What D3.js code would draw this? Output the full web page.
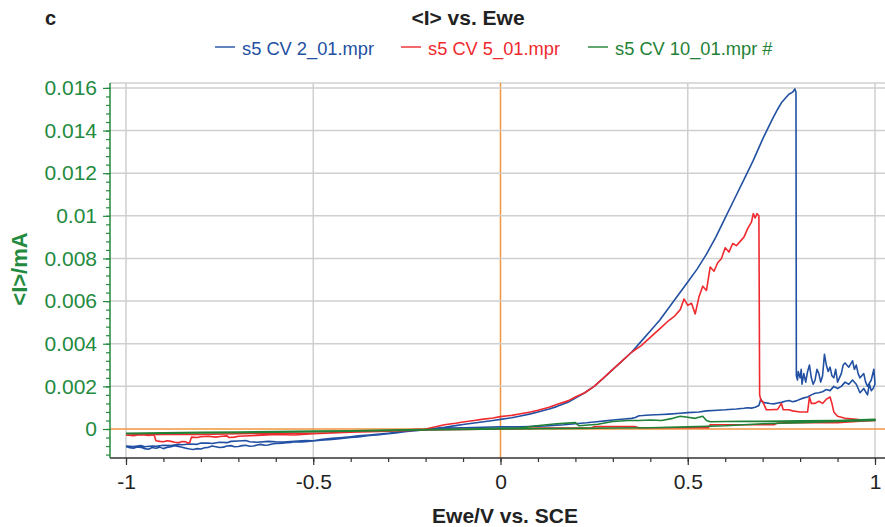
<!DOCTYPE html>
<html>
<head>
<meta charset="utf-8">
<script src="https://cdn.jsdelivr.net/npm/d3@7"></script>
<style>
  body { margin: 0; background: #fff; }
  svg { font-family: "Liberation Sans", Arial, sans-serif; }
</style>
</head>
<body>
<div id="chart"></div>
<script>
const svgWidth = 885;
const svgHeight = 527;

// series: [Ewe (V vs SCE), <I> (mA)], forward scan then return scan
const cv2 = [
  [-1.00, -0.00082], [-0.99, -0.00088], [-0.98, -0.00090], [-0.97, -0.00084], [-0.96, -0.00086],
  [-0.95, -0.00092], [-0.94, -0.00095], [-0.93, -0.00087], [-0.92, -0.00090], [-0.91, -0.00085],
  [-0.90, -0.00092], [-0.89, -0.00086], [-0.88, -0.00083], [-0.87, -0.00078], [-0.86, -0.00082],
  [-0.85, -0.00086], [-0.84, -0.00090], [-0.83, -0.00094], [-0.82, -0.00096], [-0.81, -0.00092],
  [-0.80, -0.00094], [-0.79, -0.00088], [-0.78, -0.00086], [-0.77, -0.00080], [-0.76, -0.00083],
  [-0.75, -0.00087], [-0.74, -0.00085], [-0.73, -0.00080], [-0.72, -0.00078], [-0.71, -0.00083],
  [-0.70, -0.00082], [-0.69, -0.00078], [-0.68, -0.00076], [-0.67, -0.00081], [-0.66, -0.00080],
  [-0.65, -0.00075], [-0.64, -0.00072], [-0.63, -0.00076], [-0.62, -0.00075], [-0.61, -0.00070],
  [-0.60, -0.00068], [-0.58, -0.00066], [-0.56, -0.00063], [-0.55, -0.00060], [-0.53, -0.00061],
  [-0.50, -0.00056], [-0.48, -0.00053], [-0.45, -0.00049], [-0.43, -0.00046], [-0.40, -0.00040],
  [-0.38, -0.00037], [-0.35, -0.00030], [-0.33, -0.00028], [-0.30, -0.00022], [-0.28, -0.00018],
  [-0.25, -0.00012], [-0.22, -0.00007], [-0.20, -0.00003], [-0.18, 0.00002], [-0.15, 0.00008],
  [-0.12, 0.00016], [-0.10, 0.00021], [-0.07, 0.00028], [-0.05, 0.00033], [-0.02, 0.00040],
  [0.00, 0.00045], [0.03, 0.00053], [0.05, 0.00060], [0.08, 0.00071], [0.10, 0.00080],
  [0.13, 0.00094], [0.15, 0.00105], [0.18, 0.00125], [0.20, 0.00145], [0.225, 0.0017],
  [0.25, 0.0020], [0.275, 0.00238], [0.30, 0.0028], [0.325, 0.0032], [0.35, 0.0036],
  [0.375, 0.0041], [0.40, 0.0046], [0.425, 0.0051], [0.45, 0.0057], [0.475, 0.0063],
  [0.50, 0.0069], [0.525, 0.0075], [0.55, 0.0082], [0.575, 0.0090], [0.60, 0.0099],
  [0.625, 0.0108], [0.65, 0.0117], [0.675, 0.0126], [0.70, 0.0136], [0.725, 0.0145],
  [0.74, 0.0150], [0.75, 0.0153], [0.76, 0.0155], [0.77, 0.0157], [0.78, 0.0158],
  [0.786, 0.01595], [0.789, 0.0158], [0.790, 0.0025], [0.793, 0.0023], [0.795, 0.0027],
  [0.80, 0.0024], [0.803, 0.0028], [0.805, 0.0021], [0.81, 0.0026], [0.815, 0.0022],
  [0.82, 0.0027], [0.825, 0.0030], [0.83, 0.0024], [0.835, 0.0021], [0.84, 0.0023],
  [0.845, 0.0028], [0.85, 0.0026], [0.855, 0.0022], [0.86, 0.0025], [0.865, 0.0035],
  [0.87, 0.0030], [0.875, 0.0027], [0.88, 0.0029], [0.885, 0.0025], [0.89, 0.0024],
  [0.895, 0.0028], [0.90, 0.0022], [0.91, 0.0026], [0.915, 0.0030], [0.92, 0.0031],
  [0.93, 0.0029], [0.94, 0.0032], [0.945, 0.0028], [0.95, 0.0030], [0.955, 0.0026],
  [0.96, 0.0024], [0.97, 0.0026], [0.975, 0.0022], [0.98, 0.0020], [0.99, 0.0023],
  [0.997, 0.0028], [1.00, 0.0021],
  [0.995, 0.0019], [0.99, 0.0018], [0.985, 0.0021], [0.98, 0.0016], [0.97, 0.0019],
  [0.96, 0.0017], [0.95, 0.0021], [0.94, 0.0023], [0.93, 0.0021], [0.92, 0.0022],
  [0.91, 0.0020], [0.90, 0.0019], [0.89, 0.0020], [0.88, 0.0018], [0.87, 0.00185],
  [0.86, 0.00175], [0.85, 0.0017], [0.84, 0.00168], [0.83, 0.0016], [0.82, 0.0015],
  [0.81, 0.00146], [0.80, 0.0014], [0.79, 0.00132], [0.78, 0.00128], [0.77, 0.00134],
  [0.76, 0.0013], [0.75, 0.00125], [0.74, 0.00122], [0.73, 0.00118], [0.72, 0.0012],
  [0.70, 0.00125], [0.695, 0.0014], [0.69, 0.0011], [0.68, 0.00102], [0.67, 0.00098],
  [0.66, 0.00100], [0.65, 0.00097], [0.63, 0.00094], [0.62, 0.00093], [0.60, 0.0009],
  [0.58, 0.00088], [0.55, 0.00085], [0.53, 0.00080], [0.50, 0.00077], [0.48, 0.00074],
  [0.45, 0.0007], [0.43, 0.00068], [0.40, 0.00066], [0.38, 0.00063], [0.37, 0.00062],
  [0.36, 0.00054], [0.35, 0.0005], [0.33, 0.00047], [0.30, 0.00042], [0.28, 0.00038],
  [0.25, 0.00033], [0.23, 0.00029], [0.20, 0.00025], [0.17, 0.0002], [0.15, 0.00018],
  [0.12, 0.00014], [0.10, 0.00013], [0.05, 0.0001], [0.00, 0.0001], [-0.05, 0.00008],
  [-0.10, 0.00006], [-0.15, 0.00004], [-0.20, -0.00002], [-0.25, -0.0001], [-0.28, -0.00016],
  [-0.30, -0.0002], [-0.33, -0.00025], [-0.35, -0.00028], [-0.38, -0.00032], [-0.40, -0.00036],
  [-0.43, -0.00041], [-0.45, -0.00044], [-0.48, -0.00050], [-0.50, -0.00055], [-0.52, -0.00054],
  [-0.55, -0.00058], [-0.58, -0.00061], [-0.60, -0.0006], [-0.62, -0.00058], [-0.65, -0.00062],
  [-0.67, -0.00060], [-0.68, -0.00054], [-0.70, -0.00056], [-0.72, -0.00058], [-0.73, -0.00064],
  [-0.75, -0.00062], [-0.77, -0.00068], [-0.78, -0.00066], [-0.80, -0.00066], [-0.81, -0.00072],
  [-0.83, -0.0007], [-0.85, -0.00074], [-0.86, -0.00072], [-0.88, -0.00078], [-0.90, -0.00076],
  [-0.92, -0.00081], [-0.93, -0.0008], [-0.95, -0.00083], [-0.96, -0.00078], [-0.98, -0.00082],
  [-1.00, -0.0008]
];

const cv5 = [
  [-1.00, -0.00028], [-0.98, -0.00032], [-0.96, -0.00026], [-0.94, -0.0003], [-0.925, -0.00028],
  [-0.92, -0.00055], [-0.91, -0.00058], [-0.90, -0.0006], [-0.89, -0.00055], [-0.88, -0.00058],
  [-0.87, -0.00062], [-0.86, -0.00064], [-0.85, -0.00059], [-0.84, -0.0006], [-0.835, -0.00066],
  [-0.83, -0.00064], [-0.825, -0.00038], [-0.81, -0.00040], [-0.80, -0.00036], [-0.78, -0.00034],
  [-0.76, -0.00038], [-0.75, -0.00035], [-0.73, -0.00032], [-0.725, -0.0004], [-0.71, -0.00038],
  [-0.70, -0.00034], [-0.65, -0.0003], [-0.60, -0.00026], [-0.55, -0.00028], [-0.50, -0.00022],
  [-0.45, -0.00018], [-0.40, -0.00015], [-0.35, -0.0001], [-0.30, -0.00008], [-0.25, -0.00004],
  [-0.20, 0.0], [-0.17, 0.00012], [-0.15, 0.0002], [-0.12, 0.00027], [-0.10, 0.00033],
  [-0.07, 0.00040], [-0.05, 0.00045], [-0.02, 0.00052], [0.00, 0.00058], [0.03, 0.00064],
  [0.05, 0.0007], [0.08, 0.0008], [0.10, 0.00088], [0.13, 0.00102], [0.15, 0.00115],
  [0.18, 0.00132], [0.20, 0.0015], [0.225, 0.0017], [0.25, 0.0020], [0.275, 0.0024],
  [0.30, 0.0028], [0.325, 0.0032], [0.35, 0.0036], [0.375, 0.0039], [0.40, 0.0043],
  [0.425, 0.0047], [0.45, 0.0051], [0.465, 0.0053], [0.48, 0.0056], [0.49, 0.0061],
  [0.50, 0.0058], [0.51, 0.0059], [0.52, 0.0054], [0.53, 0.0062], [0.54, 0.0067],
  [0.55, 0.0065], [0.56, 0.0076], [0.57, 0.0074], [0.58, 0.0078], [0.59, 0.0080],
  [0.60, 0.0085], [0.61, 0.0083], [0.62, 0.0087], [0.63, 0.0086], [0.64, 0.0088],
  [0.65, 0.0090], [0.66, 0.0094], [0.67, 0.0097], [0.675, 0.0101], [0.68, 0.0099],
  [0.685, 0.0101], [0.690, 0.0100], [0.692, 0.0016], [0.696, 0.0013], [0.70, 0.0013],
  [0.705, 0.0011], [0.71, 0.0009], [0.72, 0.0009], [0.74, 0.00092], [0.75, 0.0012],
  [0.755, 0.0009], [0.77, 0.0009], [0.78, 0.00085], [0.80, 0.0008], [0.82, 0.0008],
  [0.825, 0.0015], [0.83, 0.0012], [0.84, 0.0012], [0.85, 0.0013], [0.86, 0.0012],
  [0.87, 0.0014], [0.88, 0.0015], [0.885, 0.0012], [0.89, 0.0008], [0.90, 0.0006],
  [0.92, 0.0005], [0.95, 0.00045], [0.98, 0.0004], [1.00, 0.00042],
  [1.00, 0.0004], [0.95, 0.00035], [0.90, 0.0003], [0.80, 0.0003], [0.74, 0.00028],
  [0.73, 0.0002], [0.60, 0.0002], [0.56, 0.0002], [0.555, 0.00006], [0.45, 0.00006],
  [0.37, 0.00006], [0.36, 0.00011], [0.25, 0.00011], [0.24, 0.00004], [0.10, 0.00004],
  [0.00, 0.0], [-0.10, -0.00002], [-0.20, -0.00005], [-0.30, -0.0001], [-0.40, -0.00015],
  [-0.50, -0.0002], [-0.60, -0.0002], [-0.70, -0.00022], [-0.80, -0.00025], [-0.90, -0.00025],
  [-1.00, -0.00028]
];

const cv10 = [
  [-1.00, -0.0002], [-0.90, -0.00018], [-0.80, -0.00016], [-0.70, -0.00014], [-0.60, -0.00012],
  [-0.50, -0.0001], [-0.40, -0.00008], [-0.30, -0.00005], [-0.20, -0.00002], [-0.10, 0.0],
  [0.00, 0.00003], [0.05, 0.00005], [0.09, 0.00014], [0.15, 0.00025], [0.20, 0.0003],
  [0.21, 0.00015], [0.26, 0.00022], [0.30, 0.00035], [0.34, 0.0004], [0.37, 0.0004],
  [0.40, 0.00042], [0.43, 0.0004], [0.46, 0.0005], [0.48, 0.0006], [0.50, 0.00055],
  [0.52, 0.0005], [0.54, 0.0006], [0.55, 0.0004], [0.56, 0.00034], [0.60, 0.00035],
  [0.65, 0.00036], [0.70, 0.00036], [0.80, 0.00038], [0.90, 0.0004], [1.00, 0.00045],
  [1.00, 0.0004], [0.90, 0.00035], [0.80, 0.0003], [0.70, 0.00025], [0.60, 0.00015],
  [0.50, 0.0001], [0.40, 0.00006], [0.30, 0.00005], [0.20, 0.00003], [0.10, 0.00002],
  [0.00, 0.0], [-0.10, -0.00002], [-0.20, -0.00005], [-0.40, -0.0001], [-0.60, -0.00015],
  [-0.80, -0.00018], [-1.00, -0.00022]
];

const seriesNames = ["s5 CV 2_01.mpr", "s5 CV 5_01.mpr", "s5 CV 10_01.mpr #"];
const seriesColors = ["#2250a2", "#ee2a2f", "#1f8236"];
const xTicks = [-1, -0.5, 0, 0.5, 1];
const yTicks = [0, 0.002, 0.004, 0.006, 0.008, 0.01, 0.012, 0.014, 0.016];

const plot = { left: 110, right: 885, top: 83, bottom: 458 };
const greenText = "#238a3e";

const xScale = d3.scaleLinear()
    .domain([-1.0427, 1.0267])
    .range([plot.left, plot.right]);
const yScale = d3.scaleLinear()
    .domain([-0.00136, 0.01623])
    .range([plot.bottom, plot.top]);

const svg = d3.select("#chart").append("svg")
    .attr("width", svgWidth)
    .attr("height", svgHeight);

// grid
const grid = svg.append("g");
grid.append("line")
    .attr("x1", plot.left).attr("x2", plot.right)
    .attr("y1", plot.top).attr("y2", plot.top)
    .attr("stroke", "#cfcfcf").attr("stroke-width", 1.5);
grid.selectAll(".gx")
    .data(xTicks)
    .enter().append("line")
    .attr("x1", d => xScale(d)).attr("x2", d => xScale(d))
    .attr("y1", plot.top).attr("y2", plot.bottom)
    .attr("stroke", d => d === 0 ? "#f0963e" : "#cfcfcf")
    .attr("stroke-width", 1.5);
grid.selectAll(".gy")
    .data(yTicks)
    .enter().append("line")
    .attr("x1", plot.left).attr("x2", plot.right)
    .attr("y1", d => yScale(d)).attr("y2", d => yScale(d))
    .attr("stroke", d => d === 0 ? "#f0963e" : "#cfcfcf")
    .attr("stroke-width", 1.5);

// curves
const line = d3.line()
    .x(d => xScale(d[0]))
    .y(d => yScale(d[1]));

[cv2, cv5, cv10].forEach((data, i) => {
    svg.append("path")
        .datum(data)
        .attr("fill", "none")
        .attr("stroke", seriesColors[i])
        .attr("stroke-width", 1.6)
        .attr("stroke-linejoin", "round")
        .attr("d", line);
});

const fmt = d => String(d);

// x axis
const axisX = svg.append("g")
    .attr("transform", `translate(0, ${plot.bottom})`)
    .call(d3.axisBottom(xScale).tickValues(d3.range(-10, 11).map(d => d / 10)).tickSize(4).tickFormat(""));
axisX.select(".domain").attr("stroke", "#333").attr("stroke-width", 1.5)
    .attr("d", `M${plot.left},0H${plot.right}`);
axisX.selectAll(".tick line").attr("stroke", "#333").attr("stroke-width", 1.2);

const axisXMajor = svg.append("g")
    .attr("transform", `translate(0, ${plot.bottom})`)
    .call(d3.axisBottom(xScale).tickValues(xTicks).tickSize(7).tickPadding(9).tickFormat(fmt));
axisXMajor.select(".domain").remove();
axisXMajor.selectAll(".tick line").attr("stroke", "#333").attr("stroke-width", 1.2);
axisXMajor.selectAll(".tick text")
    .attr("fill", "#222")
    .attr("font-size", "21px");

// y axis
const yMinor = d3.range(-3, 41).map(d => d * 0.0004).filter(d => d >= -0.00136 && d <= 0.01623);
const axisY = svg.append("g")
    .attr("transform", `translate(${plot.left}, 0)`)
    .call(d3.axisLeft(yScale).tickValues(yMinor).tickSize(4).tickFormat(""));
axisY.select(".domain").attr("stroke", greenText).attr("stroke-width", 1.5)
    .attr("d", `M0,${plot.top}V${plot.bottom}`);
axisY.selectAll(".tick line").attr("stroke", greenText).attr("stroke-width", 1.2);

const axisYMajor = svg.append("g")
    .attr("transform", `translate(${plot.left}, 0)`)
    .call(d3.axisLeft(yScale).tickValues(yTicks).tickSize(7).tickPadding(6).tickFormat(fmt));
axisYMajor.select(".domain").remove();
axisYMajor.selectAll(".tick line").attr("stroke", greenText).attr("stroke-width", 1.2);
axisYMajor.selectAll(".tick text")
    .attr("fill", greenText)
    .attr("font-size", "21px");

// titles
svg.append("text")
    .attr("x", 45).attr("y", 25)
    .attr("font-size", "20px").attr("font-weight", "bold")
    .attr("fill", "#222")
    .text("c");

svg.append("text")
    .attr("x", 468).attr("y", 25)
    .attr("text-anchor", "middle")
    .attr("font-size", "21px").attr("font-weight", "bold")
    .attr("fill", "#222")
    .text("<I> vs. Ewe");

svg.append("text")
    .attr("x", 505).attr("y", 523)
    .attr("text-anchor", "middle")
    .attr("font-size", "21px").attr("font-weight", "bold")
    .attr("fill", "#222")
    .text("Ewe/V vs. SCE");

svg.append("text")
    .attr("transform", "translate(27, 269) rotate(-90)")
    .attr("text-anchor", "middle")
    .attr("font-size", "22px").attr("font-weight", "bold")
    .attr("fill", greenText)
    .text("<I>/mA");

// legend
const legendX = [215, 401, 588];
const legend = svg.append("g");
seriesNames.forEach((name, i) => {
    legend.append("line")
        .attr("x1", legendX[i]).attr("x2", legendX[i] + 20)
        .attr("y1", 47).attr("y2", 47)
        .attr("stroke", seriesColors[i]).attr("stroke-width", 1.4);
    legend.append("text")
        .attr("x", legendX[i] + 27).attr("y", 55)
        .attr("font-size", "18.3px")
        .attr("fill", seriesColors[i])
        .text(name);
});
</script>
</body>
</html>
